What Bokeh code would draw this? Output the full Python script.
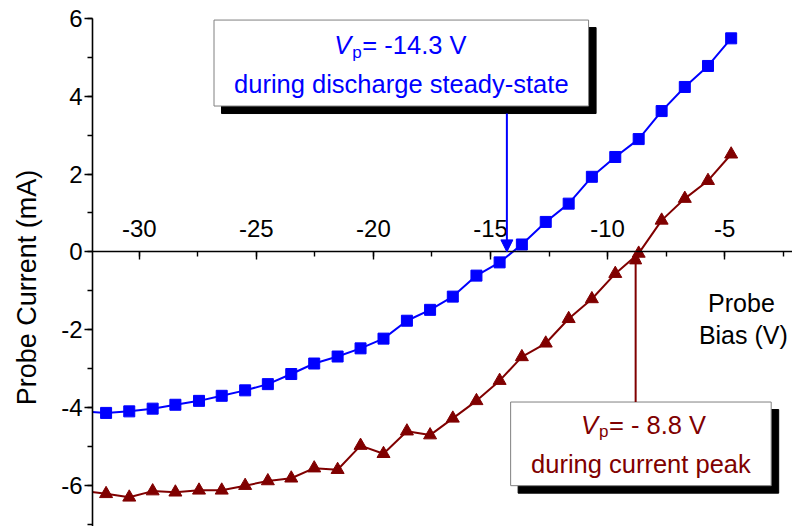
from bokeh.core.properties import value
from bokeh.embed import file_html
from bokeh.models import (Arrow, Label, NormalHead, PrintfTickFormatter, Range1d,
                          SingleIntervalTicker)
from bokeh.plotting import figure
from bokeh.resources import INLINE

# Probe bias sweep (V)
bias = [-32.41, -31.42, -30.43, -29.43, -28.46, -27.45, -26.48, -25.48, -24.51,
        -23.51, -22.53, -21.53, -20.55, -19.57, -18.57, -17.58, -16.61, -15.60,
        -14.61, -13.66, -12.64, -11.66, -10.67, -9.67, -8.67, -7.69, -6.70,
        -5.71, -4.72]

# Probe current during the discharge steady state (mA)
current_steady = [-4.10, -4.14, -4.10, -4.03, -3.93, -3.83, -3.70, -3.56, -3.40,
                  -3.14, -2.87, -2.69, -2.48, -2.23, -1.77, -1.49, -1.15, -0.61,
                  -0.27, 0.19, 0.77, 1.24, 1.93, 2.44, 2.90, 3.62, 4.24,
                  4.78, 5.49]

# Probe current during the current peak (mA)
current_peak = [-6.14, -6.22, -6.31, -6.15, -6.18, -6.13, -6.13, -6.01, -5.89,
                -5.82, -5.56, -5.60, -4.98, -5.19, -4.61, -4.71, -4.28, -3.83,
                -3.31, -2.70, -2.35, -1.72, -1.21, -0.56, -0.04, 0.81, 1.37,
                1.83, 2.51]

# Plasma potentials marked on the chart (V)
vp_steady = -14.3
vp_peak = -8.8

BLUE = "#0000ff"
RED = "#800000"
FONT = "Liberation Sans"

X_MIN, X_MAX = -32.0, -2.1
Y_MIN, Y_MAX = -7.06, 6.0

p = figure(
    width=792, height=526,
    x_range=Range1d(X_MIN, X_MAX), y_range=Range1d(Y_MIN, Y_MAX),
    x_axis_location="above",
    output_backend="svg", toolbar_location=None,
    min_border_left=92, min_border_right=0, min_border_top=18, min_border_bottom=0,
)
p.outline_line_color = None
p.grid.visible = False
p.background_fill_color = "white"
p.border_fill_color = "white"

# x axis crossing the plot at zero current, labels above the line
xa = p.xaxis[0]
xa.fixed_location = 0
xa.ticker = SingleIntervalTicker(interval=5, num_minor_ticks=2)
xa.major_tick_in = 8
xa.major_tick_out = 0
xa.minor_tick_in = 5
xa.minor_tick_out = 0
xa.major_label_standoff = 15

ya = p.yaxis[0]
ya.ticker = SingleIntervalTicker(interval=2, num_minor_ticks=2)
ya.major_tick_in = 0
ya.major_tick_out = 8
ya.minor_tick_in = 0
ya.minor_tick_out = 5
ya.major_label_standoff = 2
# trailing no-break spaces nudge the title slightly below the frame centre
ya.axis_label = "Probe Current (mA)" + "\u00a0" * 4
ya.axis_label_text_font = FONT
ya.axis_label_text_font_size = "27px"
ya.axis_label_text_font_style = "normal"
ya.axis_label_text_color = "black"
ya.axis_label_standoff = 16

for ax in (xa, ya):
    ax.formatter = PrintfTickFormatter(format="%d")
    ax.axis_line_width = 1.6
    ax.axis_line_color = "black"
    ax.major_tick_line_width = 1.4
    ax.minor_tick_line_width = 1.4
    ax.major_tick_line_color = "black"
    ax.minor_tick_line_color = "black"
    ax.major_label_text_font = FONT
    ax.major_label_text_font_size = "24px"
    ax.major_label_text_color = "black"

# curves
p.line(bias, current_steady, line_color=BLUE, line_width=2)
p.scatter(bias, current_steady, marker="square", size=11,
          fill_color=BLUE, line_color=BLUE)
p.line(bias, current_peak, line_color=RED, line_width=2)
p.scatter(bias, current_peak, marker="triangle", size=13,
          fill_color=RED, line_color=RED)

# pixel scale helpers for the shadow offsets
px_x = 700 / (X_MAX - X_MIN)
px_y = 508 / (Y_MAX - Y_MIN)
sdx = 7.5 / px_x
sdy = 7.5 / px_y

TXT = "25.5px"
SUB = "17px"


def callout(left, right, top, bottom):
    p.quad(left=left + sdx, right=right + sdx, top=top - sdy, bottom=bottom - sdy,
           fill_color="black", line_color="black")
    p.quad(left=left, right=right, top=top, bottom=bottom,
           fill_color="white", line_color="#808080", line_width=1)


def vp_line(cx, y, sub_y, rest, color, x_v, x_p, x_rest):
    p.text(x=[cx], y=[y], text=["V"], x_offset=x_v, text_font=value(FONT),
           text_font_size=TXT, text_font_style="italic", text_color=color,
           text_align="left", text_baseline="alphabetic")
    p.text(x=[cx], y=[sub_y], text=["p"], x_offset=x_p, text_font=value(FONT),
           text_font_size=SUB, text_color=color,
           text_align="left", text_baseline="alphabetic")
    p.text(x=[cx], y=[y], text=[rest], x_offset=x_rest, text_font=value(FONT),
           text_font_size=TXT, text_color=color,
           text_align="left", text_baseline="alphabetic")


# steady-state callout
b_left, b_right, b_top, b_bottom = -26.81, -10.81, 5.96, 3.75
callout(b_left, b_right, b_top, b_bottom)
bcx = (b_left + b_right) / 2
vp_line(bcx, 5.31, 5.13, f"= {vp_steady} V", BLUE, -67, -49, -39)
p.text(x=[bcx], y=[4.31], text=["during discharge steady-state"],
       text_font=value(FONT), text_font_size=TXT, text_color=BLUE,
       text_align="center", text_baseline="alphabetic")

# current-peak callout
r_left, r_right, r_top, r_bottom = -14.14, -3.01, -3.86, -6.01
callout(r_left, r_right, r_top, r_bottom)
rcx = (r_left + r_right) / 2
vp_line(rcx, -4.45, -4.63, f"= - {-vp_peak} V", RED, -60, -42, -32)
p.text(x=[rcx], y=[-5.46], text=["during current peak"],
       text_font=value(FONT), text_font_size=TXT, text_color=RED,
       text_align="center", text_baseline="alphabetic")

# arrows pointing at the plasma potentials on the zero-current axis
p.add_layout(Arrow(
    end=NormalHead(size=12, fill_color=BLUE, line_color=BLUE),
    x_start=vp_steady, y_start=b_bottom - sdy, x_end=vp_steady, y_end=0,
    line_color=BLUE, line_width=2))
p.add_layout(Arrow(
    end=NormalHead(size=12, fill_color=RED, line_color=RED),
    x_start=vp_peak, y_start=r_top, x_end=vp_peak, y_end=0,
    line_color=RED, line_width=2))

# x axis title, placed beside the right end of the zero line
p.add_layout(Label(x=-4.28, y=-1.32, text="Probe", text_font=FONT,
                   text_font_size="25px", text_color="black",
                   text_align="center", text_baseline="middle"))
p.add_layout(Label(x=-4.2, y=-2.14, text="Bias (V)", text_font=FONT,
                   text_font_size="25px", text_color="black",
                   text_align="center", text_baseline="middle"))

open("out.html", "w").write(file_html(p, INLINE))
